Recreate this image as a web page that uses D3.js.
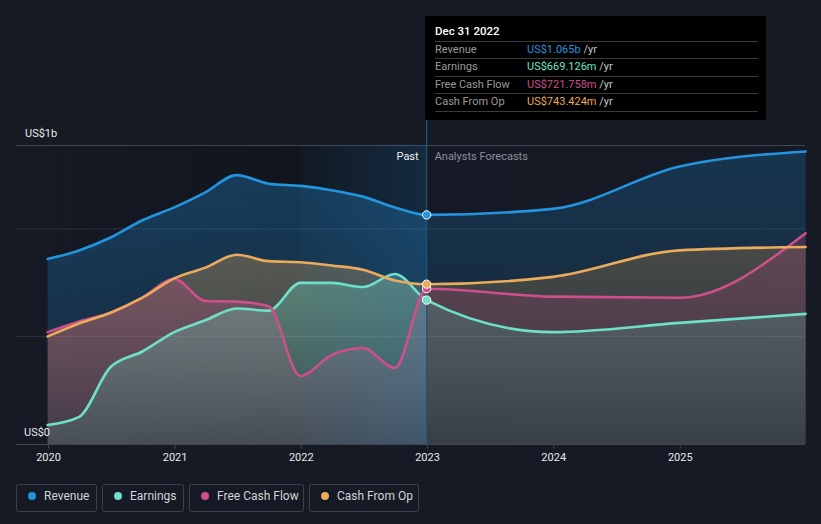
<!DOCTYPE html>
<html><head><meta charset="utf-8">
<script src="https://cdn.jsdelivr.net/npm/d3@7/dist/d3.min.js"></script>
<style>
html,body{margin:0;padding:0;background:#151a25;}
svg{display:block;font-family:Roboto,"Open Sans",sans-serif;}
</style></head>
<body>
<svg id="c" width="821" height="524"></svg>
<script>
// ---- data (US$ billions) ----
const pastDates = ["2019-12-31","2020-03-31","2020-06-30","2020-09-30","2020-12-31","2021-03-31","2021-06-30","2021-09-30","2021-12-31","2022-03-31","2022-06-30","2022-09-30","2022-12-31"];
const forecastDates = ["2023-12-31","2024-12-31","2025-12-31"];
const revenuePast = [0.86,0.90,0.96,1.04,1.10,1.17,1.25,1.21,1.20,1.18,1.15,1.10,1.065];
const revenueFcst = [1.093,1.29,1.36];
const earningsPast = [0.088,0.126,0.358,0.43,0.52,0.575,0.63,0.62,0.749,0.749,0.73,0.79,0.669];
const earningsFcst = [0.52,0.563,0.605];
const fcfPast = [0.52,0.57,0.61,0.68,0.767,0.665,0.662,0.64,0.316,0.414,0.446,0.353,0.722];
const fcfFcst = [0.685,0.68,0.98];
const cfoPast = [0.50,0.56,0.61,0.68,0.77,0.82,0.88,0.85,0.845,0.83,0.81,0.76,0.743];
const cfoFcst = [0.777,0.90,0.916];
const xTickLabels = ["2020","2021","2022","2023","2024","2025"];
const yTickLabels = ["US$0","US$1b"];
const seriesNames = ["Revenue","Earnings","Free Cash Flow","Cash From Op"];
const seriesColors = ["#2394df","#6ee0c8","#cf4f8a","#eaab5a"];
const tooltipDate = "Dec 31 2022";
const tooltipValues = ["US$1.065b","US$669.126m","US$721.758m","US$743.424m"];

const parse = d3.timeParse("%Y-%m-%d");
const dates = pastDates.concat(forecastDates).map(parse);
const seriesVals = [
  revenuePast.concat(revenueFcst),
  earningsPast.concat(earningsFcst),
  fcfPast.concat(fcfFcst),
  cfoPast.concat(cfoFcst)
];
const nowDate = parse("2022-12-31");

const svg = d3.select("#c");
const x = d3.scaleTime().domain([parse("2020-01-01"), parse("2026-01-01")]).range([48, 806]);
const y = d3.scaleLinear().domain([0, 1.39]).range([444, 145]);
const x0 = 16, x1 = 805;
const xNow = x(nowDate);
const xHl = x(parse("2022-01-01"));

const defs = svg.append("defs");
const gPast = defs.append("linearGradient").attr("id","pastbg").attr("x1","0").attr("x2","1").attr("y1","0").attr("y2","0");
gPast.append("stop").attr("offset","0").attr("stop-color","#000").attr("stop-opacity",0.05);
gPast.append("stop").attr("offset","1").attr("stop-color","#000").attr("stop-opacity",0.28);
const gHl = defs.append("linearGradient").attr("id","hl").attr("x1","0").attr("x2","1").attr("y1","0").attr("y2","0");
gHl.append("stop").attr("offset","0").attr("stop-color","#2a7fc4").attr("stop-opacity",0.04);
gHl.append("stop").attr("offset","1").attr("stop-color","#2a7fc4").attr("stop-opacity",0.22);
seriesColors.forEach((c,i)=>{
  const g = defs.append("linearGradient").attr("id","ag"+i).attr("x1","0").attr("x2","0").attr("y1","0").attr("y2","1");
  g.append("stop").attr("offset","0").attr("stop-color",c).attr("stop-opacity",0.32);
  g.append("stop").attr("offset","1").attr("stop-color",c).attr("stop-opacity",0.12);
});
defs.append("clipPath").attr("id","cpPast").append("rect").attr("x",0).attr("y",0).attr("width",xNow).attr("height",444);
defs.append("clipPath").attr("id","cpFut").append("rect").attr("x",xNow).attr("y",0).attr("width",821-xNow).attr("height",444);

// past background
svg.append("rect").attr("x",48).attr("y",145).attr("width",xNow-48).attr("height",299).attr("fill","url(#pastbg)");

// gridlines
[0.5,1].forEach(v=>{
  svg.append("line").attr("x1",x0).attr("x2",x1).attr("y1",y(v)).attr("y2",y(v)).attr("stroke","#2c323d").attr("stroke-width",1);
});
svg.append("line").attr("x1",x0).attr("x2",x1).attr("y1",145.5).attr("y2",145.5).attr("stroke","#414651").attr("stroke-width",1);

// areas
const pts = seriesVals.map(vals => vals.map((v,i)=>({d:dates[i], v})));
const area = d3.area().x(p=>x(p.d)).y0(y(0)).y1(p=>y(p.v)).curve(d3.curveMonotoneX);
const line = d3.line().x(p=>x(p.d)).y(p=>y(p.v)).curve(d3.curveMonotoneX);
const order = [0,3,2,1];
[["cpPast",1],["cpFut",0.7]].forEach(([cp,op])=>{
  const g = svg.append("g").attr("clip-path","url(#"+cp+")").attr("opacity",op);
  order.forEach(i=>{
    g.append("path").attr("d",area(pts[i])).attr("fill","url(#ag"+i+")");
  });
});

// highlight last year
svg.append("rect").attr("x",xHl).attr("y",145).attr("width",xNow-xHl).attr("height",299).attr("fill","url(#hl)");

// lines
[1,2,3,0].forEach(i=>{
  svg.append("path").attr("d",line(pts[i])).attr("fill","none").attr("stroke",seriesColors[i]).attr("stroke-width",2.6).attr("stroke-linecap","round");
});

// baseline & axis
svg.append("line").attr("x1",x0).attr("x2",x1).attr("y1",444.5).attr("y2",444.5).attr("stroke","#414651");
const xAxis = d3.axisBottom(x).tickValues(xTickLabels.map(t=>parse(t+"-01-01"))).tickFormat((d,i)=>xTickLabels[i]).tickSize(4).tickPadding(5);
const ax = svg.append("g").attr("transform","translate(0,444.5)").call(xAxis);
ax.select(".domain").remove();
ax.selectAll(".tick line").attr("stroke","#414651");
ax.selectAll(".tick text").attr("fill","#e8e8e8").attr("font-size",11).attr("font-family","Roboto,sans-serif");

// y labels
svg.append("text").attr("x",25).attr("y",137).attr("fill","#e8e8e8").attr("font-size",11).text(yTickLabels[1]);
svg.append("text").attr("x",24).attr("y",436).attr("fill","#e8e8e8").attr("font-size",11).text(yTickLabels[0]);

// now line
svg.append("line").attr("x1",xNow).attr("x2",xNow).attr("y1",118).attr("y2",444).attr("stroke","#1f5478").attr("stroke-width",1.2);

// Past / forecasts labels
svg.append("text").attr("x",xNow-8).attr("y",160).attr("text-anchor","end").attr("fill","#f0f0f0").attr("font-size",11).text("Past");
svg.append("text").attr("x",xNow+8).attr("y",160).attr("fill","#8c9099").attr("font-size",11).text("Analysts Forecasts");

// markers
[0,1,2,3].forEach(i=>{
  svg.append("circle").attr("cx",xNow).attr("cy",y(seriesVals[i][pastDates.length-1])).attr("r",4.2)
    .attr("fill",seriesColors[i]).attr("stroke","#ffffff").attr("stroke-width",1);
});

// tooltip
const tt = svg.append("g");
tt.append("rect").attr("x",425).attr("y",16).attr("width",341).attr("height",104).attr("fill","#000");
tt.append("text").attr("x",435).attr("y",35).attr("fill","#fff").attr("font-size",11.5).attr("font-weight",500).text(tooltipDate);
const rowY = [53,70,88,105];
[41,58,76,93,111].forEach(ly=>{
  tt.append("line").attr("x1",435).attr("x2",758).attr("y1",ly+0.5).attr("y2",ly+0.5).attr("stroke","#3a3a3a");
});
seriesNames.forEach((n,i)=>{
  tt.append("text").attr("x",435).attr("y",rowY[i]).attr("fill","#9a9a9a").attr("font-size",11).text(n);
  const t = tt.append("text").attr("x",527).attr("y",rowY[i]).attr("font-size",11);
  t.append("tspan").attr("fill",seriesColors[i]).text(tooltipValues[i]);
  t.append("tspan").attr("fill","#c8c8c8").text(" /yr");
});

// legend
const lg = svg.append("g");
let lx = 16;
const widths = [81,82,115,110];
seriesNames.forEach((n,i)=>{
  const g = lg.append("g").attr("transform","translate("+lx+",484)");
  g.append("rect").attr("x",0.5).attr("y",0.5).attr("width",widths[i]-1).attr("height",27).attr("rx",2).attr("fill","none").attr("stroke","#3b404a");
  g.append("circle").attr("cx",16).attr("cy",12).attr("r",4).attr("fill",seriesColors[i]);
  g.append("text").attr("x",28).attr("y",16).attr("fill","#d2d4d8").attr("font-size",12).text(n);
  lx += widths[i] + 5;
});
</script>
</body></html>
